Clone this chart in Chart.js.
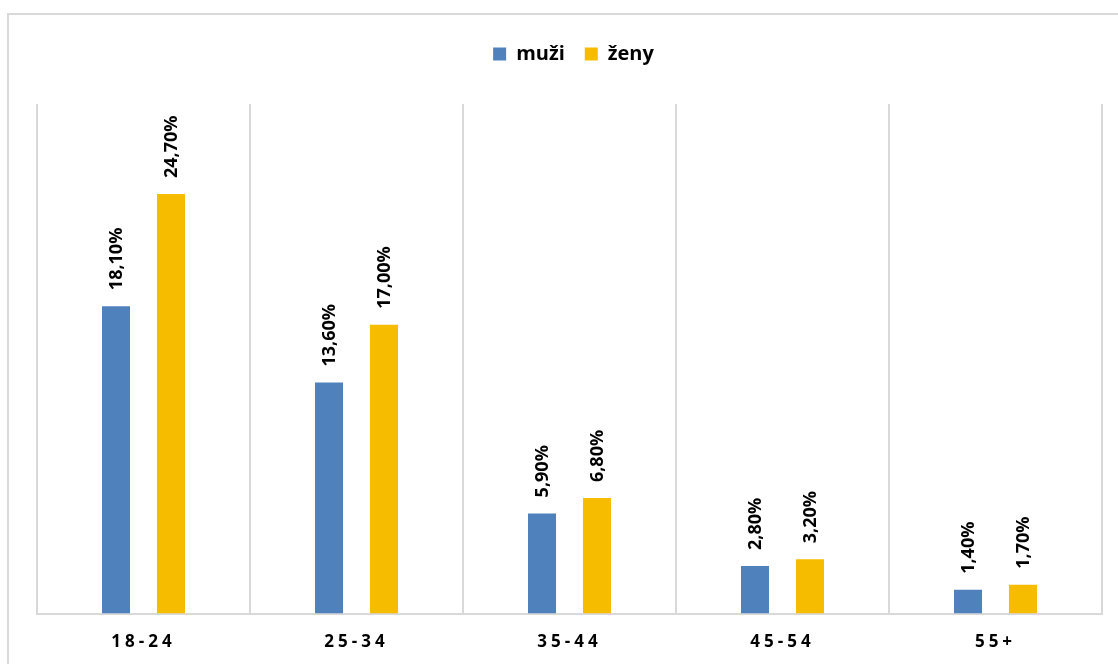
<!DOCTYPE html>
<html>
<head>
<meta charset="utf-8">
<script src="https://cdn.jsdelivr.net/npm/chart.js@4"></script>
<style>
  html, body { margin: 0; padding: 0; background: #fff; overflow: hidden; }
  #frame { position: absolute; left: 7px; top: 13px; width: 1140px; height: 700px; border: 2px solid #d9d9d9; box-sizing: border-box; }
  #wrap { position: absolute; left: 0; top: 0; width: 1118px; height: 686px; }
</style>
</head>
<body>
<div id="frame"></div>
<div id="wrap"><canvas id="chart" width="1118" height="686"></canvas></div>
<script>
const categories = ['18-24', '25-34', '35-44', '45-54', '55+'];
const muzi = [18.1, 13.6, 5.9, 2.8, 1.4];
const zeny = [24.7, 17.0, 6.8, 3.2, 1.7];
const seriesNames = ['muži', 'ženy'];

const FONT = '"Open Sans", Lato, sans-serif';

// value labels above bars, rotated like in Excel
const barLabels = {
    id: 'barLabels',
    afterDatasetsDraw(chart) {
        const ctx = chart.ctx;
        ctx.save();
        ctx.font = 'bold 18px ' + FONT;
        ctx.fillStyle = '#000';
        ctx.textAlign = 'left';
        ctx.textBaseline = 'middle';
        chart.data.datasets.forEach((ds, i) => {
            chart.getDatasetMeta(i).data.forEach((bar, j) => {
                const txt = ds.data[j].toFixed(2).replace('.', ',') + '%';
                ctx.save();
                ctx.translate(bar.x + 1, bar.y - 16);
                ctx.rotate(-Math.PI / 2);
                ctx.fillText(txt, 0, 0);
                ctx.restore();
            });
        });
        ctx.restore();
    }
};

// spaced-out x labels + room under the legend
const tweaks = {
    id: 'tweaks',
    beforeInit(chart) {
        const fit = chart.legend.fit;
        chart.legend.fit = function () {
            fit.call(this);
            this.height += 30;
        };
        const draw = chart.legend.draw;
        chart.legend.draw = function () {
            this.ctx.save();
            this.ctx.translate(4, 0);
            draw.call(this);
            this.ctx.restore();
        };
    },
    beforeDraw(chart) {
        const xs = chart.scales.x;
        if (!xs._spaced) {
            const orig = xs.drawLabels;
            xs.drawLabels = function (area) {
                const c = this.ctx;
                c.save();
                c.letterSpacing = '4px';
                orig.call(this, area);
                c.restore();
            };
            xs._spaced = true;
        }
    }
};

new Chart(document.getElementById('chart'), {
    type: 'bar',
    data: {
        labels: categories,
        datasets: [
            { label: seriesNames[0], data: muzi, backgroundColor: '#4f81bd' },
            { label: seriesNames[1], data: zeny, backgroundColor: '#f6bc00' }
        ]
    },
    options: {
        responsive: false,
        animation: false,
        categoryPercentage: 0.516,
        barPercentage: 0.51,
        layout: { padding: { left: 37, right: 16, top: 24, bottom: 16 } },
        plugins: {
            legend: {
                position: 'top',
                labels: {
                    font: { family: FONT, size: 20, weight: 'bold' },
                    color: '#000',
                    boxWidth: 13,
                    boxHeight: 13,
                    padding: 20
                }
            },
            tooltip: { enabled: false }
        },
        scales: {
            x: {
                grid: { color: '#d9d9d9', lineWidth: 2, drawTicks: false },
                border: { color: '#d9d9d9', width: 2 },
                ticks: {
                    color: '#000',
                    padding: 18,
                    font: { family: FONT, size: 17, weight: 'bold' }
                }
            },
            y: {
                display: false,
                min: 0,
                max: 30
            }
        }
    },
    plugins: [barLabels, tweaks]
});
</script>
</body>
</html>
